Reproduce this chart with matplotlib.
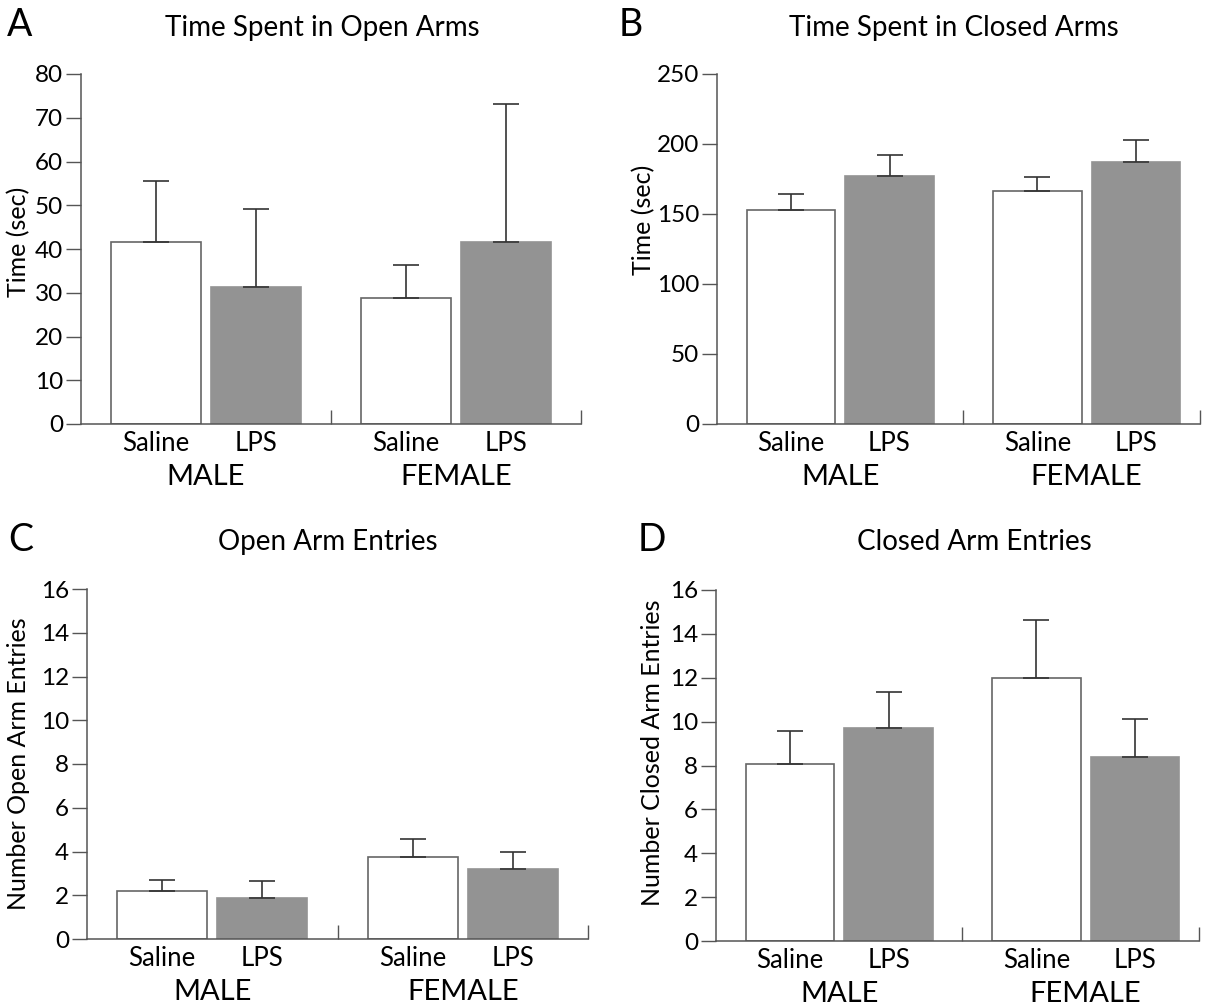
import matplotlib
matplotlib.use("Agg")
import matplotlib.pyplot as plt

plt.rcParams['font.family'] = ['Lato', 'DejaVu Sans']

# group / treatment layout
treatments = ['Saline', 'LPS', 'Saline', 'LPS']
sexes = ['MALE', 'FEMALE']

# means and SEM (upper bar only), order: male saline, male LPS, female saline, female LPS
open_time = [41.5, 31.3, 28.7, 41.5]
open_time_err = [14.1, 17.9, 7.7, 31.6]

closed_time = [152.8, 177.0, 166.2, 187.5]
closed_time_err = [11.2, 14.8, 10.5, 15.4]

open_entries = [2.18, 1.86, 3.76, 3.20]
open_entries_err = [0.51, 0.79, 0.82, 0.77]

closed_entries = [8.05, 9.69, 12.0, 8.37]
closed_entries_err = [1.53, 1.67, 2.65, 1.74]

panels = [
    dict(letter='A', title='Time Spent in Open Arms', ylabel='Time (sec)',
         means=open_time, errs=open_time_err, ymax=80, yticks=range(0, 81, 10),
         rect=(81, 424, 500, 350), xmax=5.0, title_xy=(322, 28), letter_xy=(20, 25),
         ylabel_xy=(19, 242), ylabel_size=18),
    dict(letter='B', title='Time Spent in Closed Arms', ylabel='Time (sec)',
         means=closed_time, errs=closed_time_err, ymax=250, yticks=range(0, 251, 50),
         rect=(717, 424, 483, 350), xmax=4.9, title_xy=(954, 28), letter_xy=(631, 25),
         ylabel_xy=(644, 220), ylabel_size=18),
    dict(letter='C', title='Open Arm Entries', ylabel='Number Open Arm Entries',
         means=open_entries, errs=open_entries_err, ymax=16, yticks=range(0, 17, 2),
         rect=(87, 939, 501, 350), xmax=5.0, title_xy=(328, 542), letter_xy=(21, 540),
         ylabel_xy=(19, 764), ylabel_size=18),
    dict(letter='D', title='Closed Arm Entries', ylabel='Number Closed Arm Entries',
         means=closed_entries, errs=closed_entries_err, ymax=16, yticks=range(0, 17, 2),
         rect=(716, 941, 483, 351), xmax=4.9, title_xy=(974, 542), letter_xy=(652, 540),
         ylabel_xy=(652, 753), ylabel_size=18),
]

W, H = 1207, 1006
fig = plt.figure(figsize=(W / 100, H / 100), dpi=100)

bar_x = [0.75, 1.75, 3.25, 4.25]
bar_w = 0.9
fills = ['white', '#939393', 'white', '#939393']
edges = ['#666666', '#939393', '#666666', '#939393']
axis_col = '#555555'

for p in panels:
    x0, ybot, w, h = p['rect']
    ax = fig.add_axes([x0 / W, (H - ybot) / H, w / W, h / H])
    ax.bar(bar_x, p['means'], width=bar_w, color=fills, edgecolor=edges,
           linewidth=1.2, zorder=2)
    ax.errorbar(bar_x, p['means'],
                yerr=[[0] * 4, p['errs']], fmt='none', ecolor='#333333',
                elinewidth=1.2, capsize=9.7, capthick=1.2, zorder=3)

    ax.set_xlim(0, p['xmax'])
    ax.set_ylim(0, p['ymax'])
    ax.set_yticks(list(p['yticks']))
    ax.set_xticks([2.5, p['xmax']])
    ax.set_xticklabels([])
    ax.tick_params(axis='x', direction='in', length=10, width=1, color=axis_col)
    ax.tick_params(axis='y', direction='out', length=11, width=1, color=axis_col,
                   labelsize=17.5, pad=2)
    for s in ['top', 'right']:
        ax.spines[s].set_visible(False)
    for s in ['left', 'bottom']:
        ax.spines[s].set_color(axis_col)
        ax.spines[s].set_linewidth(1.1)
    ax.spines['bottom'].set_clip_on(False)

    for x, lab in zip(bar_x, treatments):
        ax.annotate(lab, xy=(x, 0), xycoords=('data', 'axes fraction'),
                    xytext=(0, -14), textcoords='offset points',
                    ha='center', va='center', fontsize=18.5)
    for i, sex in enumerate(sexes):
        xc = (bar_x[2 * i] + bar_x[2 * i + 1]) / 2
        ax.annotate(sex, xy=(xc, 0), xycoords=('data', 'axes fraction'),
                    xytext=(0, -38), textcoords='offset points',
                    ha='center', va='center', fontsize=21)

    fig.text(p['ylabel_xy'][0] / W, 1 - p['ylabel_xy'][1] / H, p['ylabel'],
             rotation=90, ha='center', va='center', fontsize=p['ylabel_size'])
    fig.text(p['title_xy'][0] / W, 1 - p['title_xy'][1] / H, p['title'],
             ha='center', va='center', fontsize=20)
    fig.text(p['letter_xy'][0] / W, 1 - p['letter_xy'][1] / H, p['letter'],
             ha='center', va='center', fontsize=27)

fig.savefig('out.png', dpi=100)
